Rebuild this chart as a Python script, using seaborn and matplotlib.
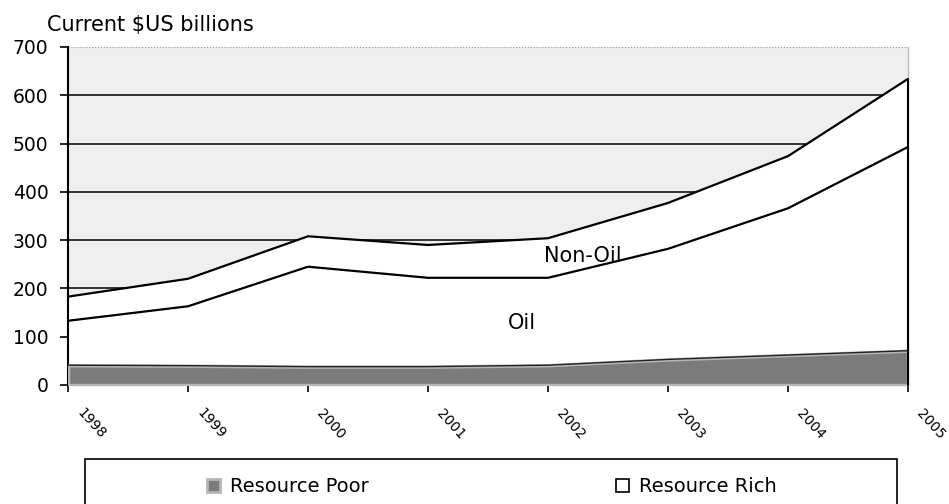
import numpy as np
import pandas as pd
import matplotlib
matplotlib.use('Agg')
import matplotlib.pyplot as plt
import matplotlib.patches as mpatches
import matplotlib.transforms as mtransforms
import seaborn as sns

# values (current $US billions)
years = [1998, 1999, 2000, 2001, 2002, 2003, 2004, 2005]
resource_poor = [41, 40, 38, 38, 41, 53, 62, 71]
rich_oil = [92, 123, 207, 184, 181, 229, 304, 422]
rich_non_oil = [50, 57, 63, 68, 82, 95, 108, 141]
y_ticks = [0, 100, 200, 300, 400, 500, 600, 700]

df = pd.DataFrame({'year': years, 'poor': resource_poor,
                   'oil': rich_oil, 'non_oil': rich_non_oil})
df['oil_top'] = df['poor'] + df['oil']
df['total'] = df['oil_top'] + df['non_oil']

sns.set_theme(style='white')
plt.rcParams['font.family'] = ['DejaVu Sans']
plt.rcParams['text.color'] = 'black'
plt.rcParams['xtick.color'] = 'black'
plt.rcParams['ytick.color'] = 'black'

fig = plt.figure(figsize=(9.49, 5.04), dpi=100)
ax = fig.add_axes([68 / 949, 1 - 385 / 504, 840 / 949, 338 / 504])
ax.set_facecolor('#efefef')

# gridlines sit behind the white resource-rich areas
for t in y_ticks[1:-1]:
    ax.axhline(t, color='black', lw=1.1, zorder=1)
ax.axhline(700, color='#999999', lw=0.8, ls=':', zorder=1)

ax.fill_between(df['year'], 0, df['total'], color='white', zorder=2)
ax.fill_between(df['year'], 0, df['poor'], facecolor='#7b7b7b',
                edgecolor='#b5b5b5', lw=2.5, zorder=3)
ax.plot(df['year'], df['poor'], color='#222222', lw=1.0, zorder=4)
sns.lineplot(data=df, x='year', y='oil_top', ax=ax, color='black', lw=1.6, zorder=4)
sns.lineplot(data=df, x='year', y='total', ax=ax, color='black', lw=1.6, zorder=4)

ax.text(2001.97, 267, 'Non-Oil', fontsize=15, ha='left', va='center', zorder=5)
ax.text(2001.78, 129, 'Oil', fontsize=15, ha='center', va='center', zorder=5)

ax.set_xlim(1998, 2005)
ax.set_ylim(0, 700)
ax.set_yticks(y_ticks)
ax.set_yticklabels([str(t) for t in y_ticks], fontsize=13.5)
ax.set_xticks(years)
ax.set_xticklabels([str(y) for y in years], fontsize=10, rotation=-48,
                   ha='center', va='center', rotation_mode='anchor')
ax.tick_params(axis='y', direction='out', length=6, width=1.2, color='black',
               left=True, pad=8)
ax.tick_params(axis='x', direction='out', length=5, width=1.2, color='black',
               bottom=True, pad=23)
shift = mtransforms.ScaledTranslation(0.23, 0, fig.dpi_scale_trans)
for lab in ax.get_xticklabels():
    lab.set_transform(lab.get_transform() + shift)
ax.set_xlabel('')
ax.set_ylabel('')

for side in ['left', 'bottom']:
    ax.spines[side].set_color('black')
    ax.spines[side].set_linewidth(1.5)
ax.spines['top'].set_visible(False)
ax.spines['right'].set_color('#bbbbbb')
ax.spines['right'].set_linewidth(1.0)
ax.plot([2005, 2005], [0, df['total'].iloc[-1]], color='black', lw=1.5,
        zorder=5, clip_on=False)

fig.text(47 / 949, 1 - 31 / 504, 'Current $US billions', fontsize=15,
         ha='left', va='baseline')

# legend box (bottom edge runs off the page, as in the scan)
frame = mpatches.Rectangle((85 / 949, -0.05), 812 / 949, 0.05 + 45 / 504,
                           transform=fig.transFigure, facecolor='white',
                           edgecolor='black', lw=1.2, clip_on=False)
fig.patches.append(frame)
handles = [mpatches.Patch(facecolor='#7b7b7b', edgecolor='#b5b5b5', lw=2,
                          label='Resource Poor'),
           mpatches.Patch(facecolor='white', edgecolor='black', lw=1.2,
                          label='Resource Rich')]
fig.legend(handles=handles, loc='center left', frameon=False, ncol=2,
           bbox_to_anchor=(207 / 949, 1 - 487 / 504), fontsize=14,
           handlelength=0.68, handleheight=0.68, handletextpad=0.5,
           columnspacing=12.7, borderpad=0, borderaxespad=0)

fig.savefig('out.png', dpi=100)
